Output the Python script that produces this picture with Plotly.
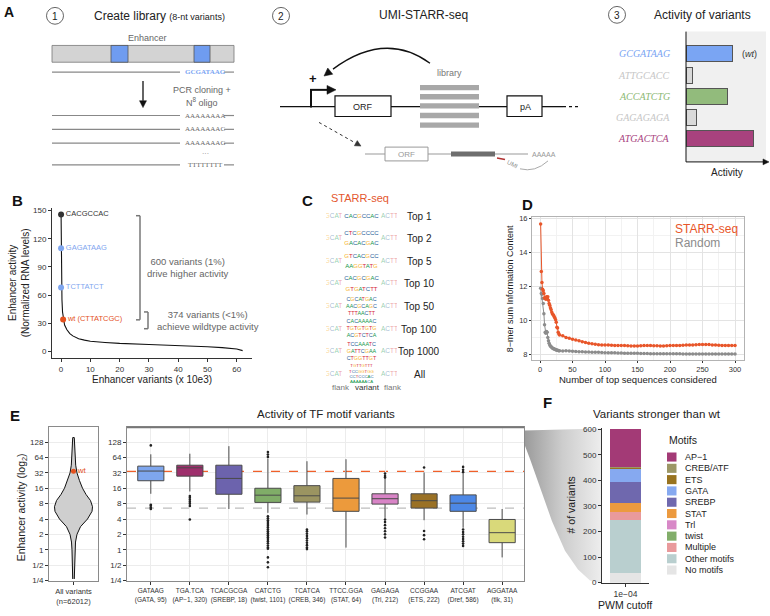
import math
import plotly.graph_objects as go

W, H = 770, 616
FONT = "Liberation Sans, Arial, Helvetica, sans-serif"
SERIF = "Liberation Serif, Times New Roman, serif"

# ---------------- data ----------------
# Panel A(1): library sequences
a1_wt_seq = "GCGATAAG"
a1_lib_seqs = ["AAAAAAAA", "AAAAAAAC", "AAAAAAAG", "···", "TTTTTTTT"]

# Panel A(3): activity of variants
a3_seqs = ["GCGATAAG", "ATTGCACC", "ACCATCTG", "GAGAGAGA", "ATGACTCA"]
a3_activity = [46, 6, 41, 10, 67]
a3_bar_colors = ["#7aa5f3", "#d9d9d9", "#92bb7c", "#d9d9d9", "#a8427e"]
a3_text_colors = ["#7aa5f3", "#c6c6c6", "#8cb874", "#c6c6c6", "#a8427e"]

# Panel B: ranked enhancer activity
b_rank = [0, 0.05, 0.1, 0.2, 0.3, 0.5, 0.8, 1.2, 2, 3, 4, 6, 8, 10, 15, 20, 30, 40, 50, 55, 60, 62]
b_activity = [146, 120, 95, 70, 55, 42, 34, 28, 23, 19, 16.5, 13.5, 12, 10.8, 9.5, 8.5, 7.4, 6.4, 5.0, 4.0, 2.5, 0.8]
b_pt_rank = [0, 0, 0, 0.7]
b_pt_activity = [146, 110, 68, 34]
b_pt_labels = ["CACGCCAC", "GAGATAAG", "TCTTATCT", "wt (CTTATCGC)"]
b_pt_colors = ["#333333", "#7fa6ef", "#7fa6ef", "#e4511e"]

# Panel C: sequence logos (stacked letters, top to bottom)
c_labels = ["Top 1", "Top 2", "Top 5", "Top 10", "Top 50", "Top 100", "Top 1000", "All"]
c_stacks = [
    ["CACGCCAC"],
    ["CTCGCCCC", "GACACGAC"],
    ["GTCACGCC", "AAGGTATG"],
    ["CACGCGAC", "GTGATCTT"],
    ["CGCATGAC", "AACGCAGC", "TTTAACTT"],
    ["CACAAAAC", "TGTGTGTG", "ACGTCTCA"],
    ["TCCAAATC", "GATTCGAA", "CTGGTTGT"],
    ["TGTTGTTT", "TCCGGTGG", "CCTCCCAC", "AAAAAACA"],
]
c_flank_left = "GCAT"
c_flank_right = "ACTT"

# Panel D: information content vs number of top sequences
d_x_first = list(range(1, 31))
d_x_rest = list(range(35, 301, 5))
d_starr = [15.7, 12.9, 12.25, 11.85, 11.75, 11.6, 11.35, 11.3, 11.25, 11.4,
           11.3, 11.4, 11.2, 11.0, 10.9, 10.75, 10.65, 10.5, 10.4, 10.35,
           10.3, 10.2, 10.15, 10.05, 9.9, 9.6, 9.55, 9.3, 9.2, 9.15,
           9.1, 9.0, 8.95, 8.9, 8.85, 8.8, 8.75, 8.7, 8.65, 8.62,
           8.6, 8.57, 8.56, 8.55, 8.55, 8.54, 8.53, 8.53, 8.52, 8.52,
           8.51, 8.5, 8.5, 8.5, 8.51, 8.52, 8.52, 8.52, 8.51, 8.51,
           8.5, 8.5, 8.51, 8.52, 8.52, 8.53, 8.53, 8.54, 8.55, 8.55,
           8.56, 8.57, 8.58, 8.59, 8.59, 8.58, 8.56, 8.55, 8.54, 8.53,
           8.53, 8.52, 8.52, 8.52]
d_random = [11.9, 11.6, 11.55, 11.3, 11.0, 10.4, 9.75, 9.3, 9.25, 9.35,
            9.3, 9.0, 8.8, 8.65, 8.55, 8.5, 8.45, 8.42, 8.38, 8.35,
            8.33, 8.31, 8.3, 8.28, 8.27, 8.25, 8.24, 8.23, 8.22, 8.21,
            8.2, 8.22, 8.2, 8.18, 8.17, 8.16, 8.15, 8.14, 8.14, 8.13,
            8.12, 8.12, 8.11, 8.1, 8.1, 8.09, 8.09, 8.08, 8.08, 8.07,
            8.07, 8.06, 8.06, 8.06, 8.05, 8.05, 8.05, 8.04, 8.04, 8.04,
            8.04, 8.03, 8.03, 8.03, 8.03, 8.03, 8.03, 8.02, 8.02, 8.02,
            8.02, 8.02, 8.02, 8.02, 8.02, 8.02, 8.02, 8.02, 8.02, 8.02,
            8.02, 8.02, 8.02, 8.02]
d_x = d_x_first + d_x_rest

# Panel E: log2 enhancer activity
e_tickvals = [-2, -1, 0, 1, 2, 3, 4, 5, 6, 7]
e_ticktext = ["1/4", "1/2", "1", "2", "4", "8", "16", "32", "64", "128"]
viol_log2 = [-1.9, -1.5, -1, -0.5, 0, 0.5, 1.0, 1.5, 2.0, 2.5, 2.8, 3.2, 3.6, 4.0, 4.5, 5.0, 5.5, 6.0, 6.5, 7.0, 7.3]
viol_halfwidth = [0.016, 0.02, 0.024, 0.027, 0.031, 0.041, 0.071, 0.143, 0.286, 0.378, 0.388,
                  0.347, 0.255, 0.184, 0.122, 0.071, 0.045, 0.033, 0.027, 0.02, 0.016]
all_q1, all_med, all_q3, all_min, all_max = 2.07, 2.71, 3.29, -1.9, 7.2
wt_log2 = 5.1

e_motifs = ["GATAAG", "TGA.TCA", "TCACGCGA", "CATCTG", "TCATCA", "TTCC.GGA", "GAGAGA", "CCGGAA", "ATCGAT", "AGGATAA"]
e_factors = ["GATA, 95", "AP−1, 320", "SREBP, 18", "twist, 1101", "CREB, 346", "STAT, 64", "Trl, 212", "ETS, 222", "Dref, 586", "tlk, 31"]
e_colors = ["#7ea6ee", "#9e2f6c", "#6c63ad", "#80ad68", "#9b9461", "#ec9a3c", "#d884c6", "#9a7125", "#4d88e6", "#d9d97a"]
e_q1 = [4.49, 4.79, 3.61, 3.08, 3.10, 2.50, 2.97, 2.71, 2.50, 0.46]
e_med = [5.12, 5.33, 4.64, 3.55, 3.51, 3.36, 3.32, 3.19, 3.03, 1.11]
e_q3 = [5.44, 5.50, 5.50, 4.00, 4.17, 4.64, 3.64, 3.64, 3.57, 1.97]
e_lo = [3.64, 3.79, 2.65, 2.40, 2.29, 0.14, 2.07, 1.92, 1.43, -0.50]
e_hi = [6.21, 6.25, 6.74, 5.93, 5.76, 5.89, 4.96, 5.03, 4.96, 2.65]
e_outliers = [
    [6.79, 2.93, 2.86, 2.75, 2.65],
    [3.5, 3.38, 3.25, 3.12, 3.0, 2.85, 1.97],
    [],
    [6.36, 6.2, 6.04, 2.18, 2.05, 1.92, 1.8, 1.68, 1.56, 1.44, 1.32, 1.2, 1.08, 0.95, 0.82, 0.7,
     0.56, 0.42, 0.28, 0.15, 0.06, -0.5, -0.82, -1.14],
    [1.32, 1.2, 1.05, 0.9, 0.75, 0.6, 0.45, 0.3, 0.15, 0.04],
    [],
    [4.96, 4.8, 4.7, 1.97, 1.8, 1.6, 1.4, 1.2, 1.0, 0.8],
    [5.35, 1.22, 0.95, 0.68],
    [5.39, 5.2, 5.05, 1.32, 1.15, 1.0, 0.85, 0.7, 0.55, 0.4, 0.25],
    [],
]

# Panel F: variants stronger than wt (legend order, top of stack first)
f_motifs = ["AP−1", "CREB/ATF", "ETS", "GATA", "SREBP", "STAT", "Trl", "twist", "Multiple", "Other motifs", "No motifs"]
f_counts = [149, 3, 4, 50, 82, 37, 0, 0, 32, 206, 37]
f_colors = ["#a33a76", "#9c9766", "#98731f", "#86a9f0", "#6f68ae", "#ec9a3f", "#d888c7", "#82ae6a", "#e99a9c", "#b9cfcf", "#e5e5e5"]
f_cutoff = ["1e−04"]

# ---------------- helpers ----------------
# axis ids: overlay (pixel frame) = x/y (drawn lowest); B = x2; D = x3; E violin = x4;
# E boxes = x5; F = x6; A3 = x7; C = x8
OX, OY = "x", "y"

def dom_x(a, b):
    return [a / W, b / W]

def dom_y(top, bottom):
    return [1 - bottom / H, 1 - top / H]

ann = []
shapes = []

def T(x, y, text, size=10, color="#222", xa="center", ya="middle", angle=0, family=FONT):
    ann.append(dict(x=x, y=y, xref=OX, yref=OY, text=text, showarrow=False,
                    font=dict(size=size, color=color, family=family),
                    xanchor=xa, yanchor=ya, textangle=angle))

def R(x0, y0, x1, y1, fill, line="#555", lw=1, layer="above"):
    shapes.append(dict(type="rect", xref=OX, yref=OY, x0=x0, y0=y0, x1=x1, y1=y1,
                       fillcolor=fill, line=dict(color=line, width=lw), layer=layer))

def L(x0, y0, x1, y1, color="#000", w=1, dash="solid"):
    shapes.append(dict(type="line", xref=OX, yref=OY, x0=x0, y0=y0, x1=x1, y1=y1,
                       line=dict(color=color, width=w, dash=dash)))

def C(cx, cy, r, label):
    shapes.append(dict(type="circle", xref=OX, yref=OY, x0=cx - r, y0=cy - r, x1=cx + r, y1=cy + r,
                       line=dict(color="#666", width=1)))
    T(cx, cy + 0.5, label, size=10, color="#222")

def ARROW(x, y, ax, ay, color="#000", w=1.2, hl=6.0, hw=3.0, shaft=True, dash="solid"):
    """Arrow from tail (ax, ay) to head (x, y) drawn as a line plus a filled triangle."""
    dx, dy = x - ax, y - ay
    d = math.hypot(dx, dy)
    ux, uy = dx / d, dy / d
    bx, by = x - ux * hl, y - uy * hl
    px, py = -uy * hw, ux * hw
    if shaft:
        L(ax, ay, bx, by, color, w, dash)
    shapes.append(dict(type="path", xref=OX, yref=OY,
                       path="M %.2f %.2f L %.2f %.2f L %.2f %.2f Z" % (x, y, bx + px, by + py, bx - px, by - py),
                       fillcolor=color, line=dict(color=color, width=0.5)))

fig = go.Figure()

# ---------------- Panel A ----------------
T(9, 9, "<b>A</b>", size=14, color="#111")
# (1) create library
C(55, 13, 8.5, "1")
T(92, 13, "Create library <span style='font-size:9px'>(8-nt variants)</span>", size=12, xa="left")
T(147, 35, "Enhancer", size=9, color="#666")
R(52, 43, 234, 60, "#d3d3d3", "#777", 0.8)
R(111, 43, 128, 60, "#6f9cf0", "#555", 0.8)
R(194, 43, 210, 60, "#6f9cf0", "#555", 0.8)
L(52, 70, 180, 70, "#888", 1.2)
T(205, 70, "<b>" + a1_wt_seq + "</b>", size=7, color="#7aa5f3", family=SERIF)
L(224, 70, 234, 70, "#888", 1.2)
ARROW(143, 106, 143, 79, "#111", 1.3, 7, 3.5)
T(202, 88, "PCR cloning +", size=9, color="#666")
T(202, 100, "N<sup>8</sup> oligo", size=9, color="#666")
for yy, s in zip([114, 128, 142, 153, 164], a1_lib_seqs):
    if s != "···":
        L(52, yy, 180, yy, "#888", 1.2)
        L(224, yy, 234, yy, "#888", 1.2)
    T(205, yy, s, size=7, color="#666", family=SERIF)

# (2) UMI-STARR-seq
C(281, 13, 8.5, "2")
T(423, 12, "UMI-STARR-seq", size=12)
L(280, 105, 335, 105, "#111", 1.3)
R(335, 94, 391, 115, "white", "#111", 1.2)
T(363, 105, "ORF", size=9)
L(391, 105, 420, 105, "#111", 1.3)
for yy in [85.7, 95, 104.3, 114, 123.7]:
    R(420, yy - 2.7, 479, yy + 2.7, "#a8a8a8", "#a8a8a8", 0)
T(449, 71, "library", size=9, color="#777")
L(479, 105, 507, 105, "#111", 1.3)
R(507, 94, 542, 115, "white", "#111", 1.2)
T(525, 105, "pA", size=9)
L(542, 105, 563, 105, "#111", 1.3)
L(563, 105, 578, 105, "#111", 1.3, "dot")
# promoter
L(311, 106, 311, 88, "#111", 2)
ARROW(336, 88, 310, 88, "#111", 2, 9, 4.5)
T(313, 76, "<b>+</b>", size=13, color="#111")
# curved arrow
shapes.append(dict(type="path", xref=OX, yref=OY, path="M 430 61 Q 385 28 333 67",
                   line=dict(color="#111", width=1.3)))
ARROW(324, 74, 334, 66, "#111", 1.3, 8, 4, shaft=False)
# dotted arrow to transcript
ARROW(361, 145, 319, 121, "#333", 1, 6, 3, dash="dot")
L(365, 153, 528, 153, "#999", 1.2)
R(385, 146, 428, 160, "white", "#999", 1)
T(406.5, 153, "ORF", size=8, color="#999")
R(451, 150.5, 495, 155.5, "#6e6e6e", "#6e6e6e", 0)
T(530, 153, "AAAAA", size=7, color="#999", xa="left")
L(497, 157, 505, 158.5, "#b03030", 1.6)
T(512, 163, "UMI", size=6, color="#888", angle=28)
shapes.append(dict(type="path", xref=OX, yref=OY, path="M 520 168 Q 535 172 548 160",
                   line=dict(color="#aaa", width=1)))

# (3) activity of variants
C(617, 12, 8.5, "3")
T(702, 12, "Activity of variants", size=12)
shapes.append(dict(type="rect", xref="x7 domain", yref="y7 domain", x0=0, x1=1, y0=0, y1=1,
                   fillcolor="#f0f0f0", line=dict(width=0), layer="below"))
L(686, 29, 686, 161, "#111", 1)
ARROW(769, 161, 686, 161, "#111", 1, 6, 3)
T(749, 52, "(<i>wt</i>)", size=9, color="#333")
T(727, 172, "Activity", size=10)

fig.add_trace(go.Bar(x=a3_activity, y=list(range(len(a3_seqs))), orientation="h", width=0.75,
                     marker=dict(color=a3_bar_colors, line=dict(color="#555", width=1)),
                     xaxis="x7", yaxis="y7", showlegend=False, hoverinfo="skip"))
for i, (s, c) in enumerate(zip(a3_seqs, a3_text_colors)):
    ann.append(dict(x=672 / W, y=i, xref="paper", yref="y7", text="<i>" + s + "</i>", showarrow=False,
                    xanchor="right", font=dict(size=10, color=c, family=SERIF)))

# ---------------- Panel B ----------------
T(17, 200, "<b>B</b>", size=15, color="#111")
fig.add_trace(go.Scatter(x=b_rank, y=b_activity, mode="lines", line=dict(color="#111", width=1.1),
                         xaxis="x2", yaxis="y2", showlegend=False, hoverinfo="skip"))
fig.add_trace(go.Scatter(x=b_pt_rank, y=b_pt_activity, mode="markers+text", text=b_pt_labels,
                         textposition="middle right",
                         textfont=dict(size=7.5, color=b_pt_colors, family=FONT),
                         marker=dict(size=6, color=b_pt_colors),
                         xaxis="x2", yaxis="y2", showlegend=False, hoverinfo="skip"))
T(19, 284, "Enhancer activity<br>(Normalized RNA levels)", size=10, angle=-90)
T(152, 381, "Enhancer variants (x 10e3)", size=10)
# brackets
L(140, 215.5, 140, 321, "#777", 1.5)
L(136, 215.5, 140, 215.5, "#777", 1.5)
L(136, 321, 140, 321, "#777", 1.5)
T(188, 268, "600 variants (1%)<br>drive higher activity", size=9.5, color="#666")
L(148, 313, 148, 330, "#777", 1.5)
L(144, 313, 148, 313, "#777", 1.5)
L(144, 330, 148, 330, "#777", 1.5)
T(208, 322, "374 variants (<1%)<br>achieve wildtype activity", size=9.5, color="#666")

# ---------------- Panel C ----------------
T(307, 200, "<b>C</b>", size=15, color="#111")
T(360, 198, "STARR-seq", size=11, color="#e4572e")
base_colors = {"A": "#109648", "C": "#255C99", "G": "#F7B32B", "T": "#D62839"}
faded = {"A": "rgba(16,150,72,0.45)", "C": "rgba(37,92,153,0.45)", "G": "rgba(247,179,43,0.5)", "T": "rgba(214,40,57,0.45)"}

def colored(seq, palette):
    return "".join("<span style='color:%s'>%s</span>" % (palette[ch], ch) for ch in seq)

size_by_n = {1: 6, 2: 6, 3: 5.4, 4: 4.3}
cx, cy, ct, cs = [], [], [], []
for r, stack in enumerate(c_stacks):
    n = len(stack)
    step = 21.0 / n / 22.86
    for k, seq in enumerate(stack):
        off = (k - (n - 1) / 2) * step
        cx.append(7.5); cy.append(r + off); ct.append(colored(seq, base_colors)); cs.append(size_by_n[n])
    cx.append(1.2); cy.append(r); ct.append(colored(c_flank_left, faded)); cs.append(6.5)
    cx.append(13.8); cy.append(r); ct.append(colored(c_flank_right, faded)); cs.append(6.5)
fig.add_trace(go.Scatter(x=cx, y=cy, text=ct, mode="text", textposition="middle center",
                         textfont=dict(size=cs, family=FONT),
                         xaxis="x8", yaxis="y8", showlegend=False, hoverinfo="skip"))
for r, lab in enumerate(c_labels):
    ann.append(dict(x=419 / W, y=r, xref="paper", yref="y8", text=lab, showarrow=False,
                    font=dict(size=10, color="#222", family=FONT)))
T(341, 390, "flank", size=8, color="#777")
T(367, 390, "variant", size=8, color="#333")
T(393, 390, "flank", size=8, color="#777")

# ---------------- Panel D ----------------
T(527, 204, "<b>D</b>", size=15, color="#111")
fig.add_trace(go.Scatter(x=d_x, y=d_random, mode="lines+markers", line=dict(color="#8c8c8c", width=1),
                         marker=dict(size=3.5, color="#8c8c8c"), xaxis="x3", yaxis="y3",
                         showlegend=False, hoverinfo="skip"))
fig.add_trace(go.Scatter(x=d_x, y=d_starr, mode="lines+markers", line=dict(color="#e8562a", width=1),
                         marker=dict(size=3.5, color="#e8562a"), xaxis="x3", yaxis="y3",
                         showlegend=False, hoverinfo="skip"))
T(673, 229, "STARR-seq", size=12, color="#e8562a", xa="left")
T(673, 243, "Random", size=12, color="#8c8c8c", xa="left")
T(510, 290, "8−mer sum Information Content", size=9, angle=-90)
T(638, 381, "Number of top sequences considered", size=9.5)

# ---------------- Panel E ----------------
T(15, 418, "<b>E</b>", size=15, color="#111")
T(22, 511, "Enhancer activity (log<sub>2</sub>)", size=10.5, angle=-90)
vx = viol_halfwidth + [-w for w in viol_halfwidth[::-1]]
vy = viol_log2 + viol_log2[::-1]
fig.add_trace(go.Scatter(x=vx, y=vy, mode="lines", fill="toself", fillcolor="#cfcfcf",
                         line=dict(color="#111", width=1), xaxis="x4", yaxis="y4",
                         showlegend=False, hoverinfo="skip"))
fig.add_trace(go.Box(x=[0], q1=[all_q1], median=[all_med], q3=[all_q3], lowerfence=[all_min],
                     upperfence=[all_max], width=0.18, whiskerwidth=0, fillcolor="white",
                     line=dict(color="#111", width=1.5), boxpoints=False,
                     xaxis="x4", yaxis="y4", showlegend=False, hoverinfo="skip"))
fig.add_trace(go.Scatter(x=[0], y=[wt_log2], mode="markers+text", text=["wt"], textposition="middle right",
                         textfont=dict(size=8, color="#e4511e"), marker=dict(size=5, color="#e4511e"),
                         xaxis="x4", yaxis="y4", showlegend=False, hoverinfo="skip"))

T(326, 416, "Activity of TF motif variants", size=11.5)
shapes.append(dict(type="line", xref="x5 domain", yref="y5", x0=0, x1=1, y0=wt_log2, y1=wt_log2,
                   line=dict(color="#f0602a", width=1.2, dash="dash"), layer="below"))
shapes.append(dict(type="line", xref="x5 domain", yref="y5", x0=0, x1=1, y0=all_med, y1=all_med,
                   line=dict(color="#bdbdbd", width=1.2, dash="dash"), layer="below"))
shapes.append(dict(type="line", xref="x5 domain", yref="y5 domain", x0=0, x1=1, y0=1, y1=1,
                   line=dict(color="#777", width=1.6)))
for i in range(len(e_motifs)):
    fig.add_trace(go.Box(x=[i], q1=[e_q1[i]], median=[e_med[i]], q3=[e_q3[i]],
                         lowerfence=[e_lo[i]], upperfence=[e_hi[i]], width=0.67, whiskerwidth=0,
                         fillcolor=e_colors[i], line=dict(color="#4a4a4a", width=1), boxpoints=False,
                         xaxis="x5", yaxis="y5", showlegend=False, hoverinfo="skip"))
    if e_outliers[i]:
        fig.add_trace(go.Scatter(x=[i] * len(e_outliers[i]), y=e_outliers[i], mode="markers",
                                 marker=dict(size=2.6, color="#222"), xaxis="x5", yaxis="y5",
                                 showlegend=False, hoverinfo="skip"))
e_ticklabels = [m + "<br>(" + f + ")" for m, f in zip(e_motifs, e_factors)]

# cone from E to F (drawn in the lowest, pixel-frame subplot)
cone_x = [524, 601, 601, 590, 578, 565, 552, 540, 530, 524]
cone_y = [433, 431, 588, 585, 574, 555, 525, 490, 462, 446]
fig.add_trace(go.Scatter(x=cone_x, y=cone_y, mode="lines", fill="toself", line=dict(width=0),
                         fillgradient=dict(type="horizontal",
                                           colorscale=[[0, "#9a9a9a"], [0.5, "#cdcdcd"], [1, "#ededed"]]),
                         xaxis=OX, yaxis=OY, showlegend=False, hoverinfo="skip"))

# ---------------- Panel F ----------------
T(547, 405, "<b>F</b>", size=15, color="#111")
T(657, 416, "Variants stronger than wt", size=11.5)
T(571, 509, "# of variants", size=10.5, angle=-90)
T(625, 610, "PWM cutoff", size=10.5)
for name, cnt, col in list(zip(f_motifs, f_counts, f_colors))[::-1]:
    fig.add_trace(go.Bar(x=[0], y=[cnt], width=0.68, marker=dict(color=col, line=dict(width=0)),
                         name=name, xaxis="x6", yaxis="y6", showlegend=False, hoverinfo="skip"))
T(667, 443, "Motifs", size=10.5, xa="left")
for i, (name, col) in enumerate(zip(f_motifs, f_colors)):
    yy = 460 + i * 11.45
    R(667, yy - 4.6, 676.5, yy + 4.6, col, col, 0)
    T(683, yy, name, size=9, xa="left")

# ---------------- layout ----------------
tick_common = dict(ticks="outside", ticklen=3, tickcolor="#333", tickfont=dict(size=8, color="#333"),
                   zeroline=False)
d_tick = dict(ticks="outside", ticklen=2, tickcolor="#333", tickfont=dict(size=7.5, color="#333"),
              zeroline=False)
fig.update_layout(
    width=W, height=H, margin=dict(l=0, r=0, t=0, b=0),
    paper_bgcolor="white", plot_bgcolor="rgba(0,0,0,0)",
    font=dict(family=FONT, color="#222"), showlegend=False, barmode="stack",
    xaxis=dict(domain=[0, 1], range=[0, W], visible=False, anchor="y"),
    yaxis=dict(domain=[0, 1], range=[H, 0], visible=False, anchor="x"),
    xaxis2=dict(domain=dom_x(52, 252), range=[-3.1, 65.2], tickvals=list(range(0, 61, 10)),
                showline=True, linecolor="#333", showgrid=False, anchor="y2", **tick_common),
    yaxis2=dict(domain=dom_y(208, 360), range=[-7.4, 152.5], tickvals=list(range(0, 151, 30)),
                showline=True, linecolor="#333", showgrid=False, anchor="x2", **tick_common),
    xaxis3=dict(domain=dom_x(532, 744), range=[-12.3, 313.8], tickvals=list(range(0, 301, 50)),
                showline=True, mirror=True, linecolor="#b3b3b3", gridcolor="#e3e3e3",
                minor=dict(tickvals=list(range(25, 300, 50)), showgrid=True, gridcolor="#f2f2f2"),
                anchor="y3", **d_tick),
    yaxis3=dict(domain=dom_y(217, 362), range=[7.65, 16.1], tickvals=list(range(8, 17, 2)),
                showline=True, mirror=True, linecolor="#b3b3b3", gridcolor="#e3e3e3",
                minor=dict(tickvals=[9, 11, 13, 15], showgrid=True, gridcolor="#f2f2f2"),
                anchor="x3", **d_tick),
    xaxis4=dict(domain=dom_x(49, 98), range=[-0.5, 0.5], tickvals=[0],
                ticktext=["All variants<br>(n=62012)"], showline=True, mirror=True, linecolor="#8a8a8a",
                showgrid=False, anchor="y4", ticks="outside", ticklen=3, tickcolor="#333",
                tickfont=dict(size=7.5, color="#333"), zeroline=False),
    yaxis4=dict(domain=dom_y(430, 586), range=[-2.06, 7.96], tickvals=e_tickvals, ticktext=e_ticktext,
                showline=True, mirror=True, linecolor="#8a8a8a", gridcolor="#ececec",
                anchor="x4", **tick_common),
    xaxis5=dict(domain=dom_x(127, 524), range=[-0.61, 9.56], tickvals=list(range(len(e_motifs))),
                ticktext=e_ticklabels, showline=True, mirror=True, linecolor="#8a8a8a",
                gridcolor="#ececec", anchor="y5", ticks="outside", ticklen=3, tickcolor="#333",
                tickfont=dict(size=6.5, color="#333"), zeroline=False),
    yaxis5=dict(domain=dom_y(430, 586), range=[-2.06, 7.96], tickvals=e_tickvals, ticktext=e_ticktext,
                showline=True, mirror=True, linecolor="#8a8a8a", gridcolor="#ececec",
                anchor="x5", **tick_common),
    xaxis6=dict(domain=dom_x(602, 649), range=[-0.5, 0.5], tickvals=[0], ticktext=f_cutoff,
                showline=True, linecolor="#333", showgrid=False, anchor="y6", ticks="outside",
                ticklen=3, tickcolor="#333", tickfont=dict(size=8.5, color="#333"), zeroline=False),
    yaxis6=dict(domain=dom_y(430.7, 587.3), range=[0, 604], tickvals=list(range(0, 601, 100)),
                showline=True, linecolor="#333", showgrid=False, anchor="x6", **tick_common),
    xaxis7=dict(domain=dom_x(686, 766), range=[0, 80], visible=False, anchor="y7"),
    yaxis7=dict(domain=dom_y(29, 161), range=[5.08, -1.04], visible=False, anchor="x7"),
    xaxis8=dict(domain=dom_x(326, 397), range=[-0.5, 15.5], visible=False, anchor="y8"),
    yaxis8=dict(domain=dom_y(205, 387), range=[7.48, -0.48], visible=False, anchor="x8"),
    annotations=ann, shapes=shapes,
)

fig.write_html("out.html", config={"displayModeBar": False},
               post_script="document.body.style.margin='0px';")
